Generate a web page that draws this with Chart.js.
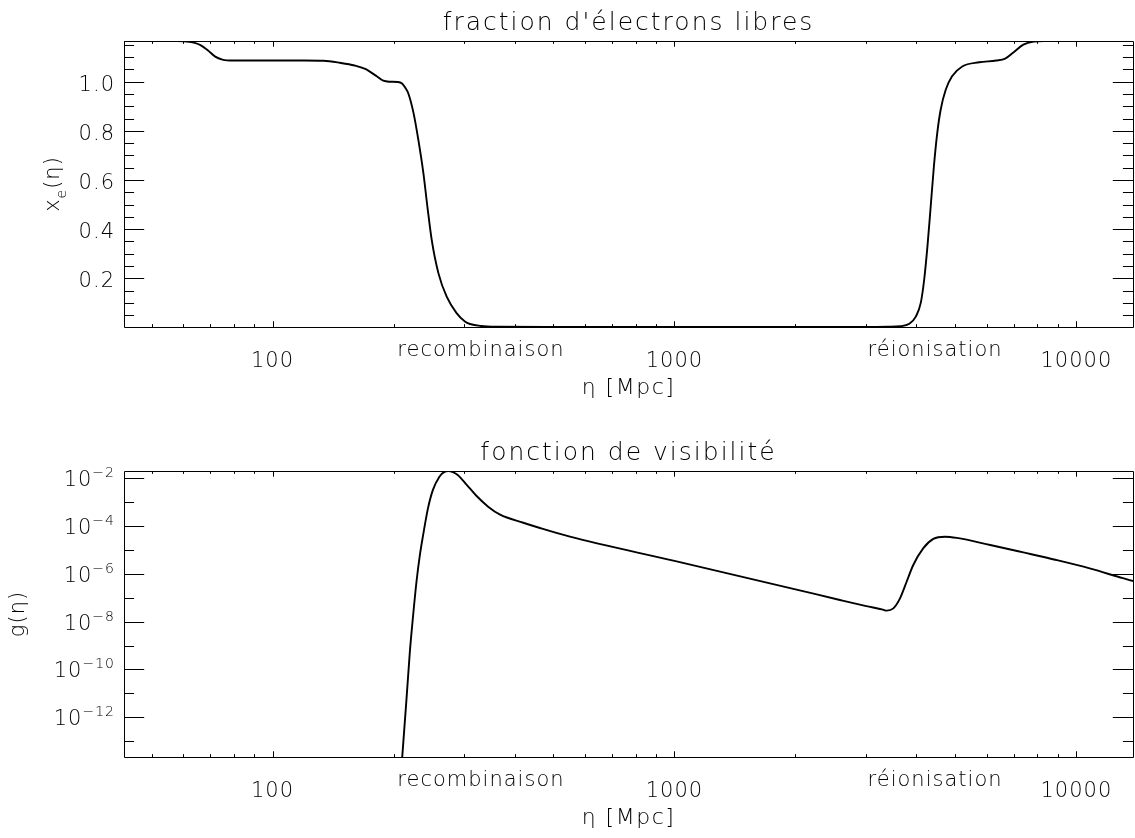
<!DOCTYPE html>
<html>
<head>
<meta charset="utf-8">
<script src="https://cdn.jsdelivr.net/npm/chart.js@4"></script>
<style>
  html, body { margin: 0; padding: 0; background: #fff; }
  #wrap { position: relative; width: 1135px; height: 838px; }
  canvas { position: absolute; left: 0; }
  #top { top: 0; }
  #bot { top: 419px; }
</style>
</head>
<body>
<div id="wrap">
  <canvas id="top" width="1135" height="419"></canvas>
  <canvas id="bot" width="1135" height="419"></canvas>
</div>
<script>
// fraction d'electrons libres x_e(eta)
const etaXe = [42.7, 50, 58, 62, 66, 69, 72, 75, 80, 100, 120, 134, 147, 160, 170, 181.7, 188.6, 195, 205, 210, 214, 217.7,
  224.3, 230.5, 237.3, 242.8, 248.9, 258.6, 271.2, 287, 301, 310, 330, 360, 500, 1000, 2000, 3000, 3400, 3650, 3840,
  3985, 4100, 4180, 4260, 4340, 4420, 4505, 4595, 4730, 4905, 5200, 5730, 6320, 6650, 6970, 7380, 7830, 8300, 13830];
const xeValues = [1.165, 1.165, 1.165, 1.162, 1.150, 1.128, 1.102, 1.090, 1.086, 1.086, 1.086, 1.085, 1.077, 1.066, 1.052, 1.022, 1.004, 1.000, 0.999, 0.993, 0.975, 0.952,
  0.872, 0.764, 0.628, 0.492, 0.356, 0.221, 0.125, 0.058, 0.024, 0.014, 0.006, 0.003, 0.002, 0.002, 0.002, 0.002, 0.003, 0.005, 0.015,
  0.044, 0.100, 0.193, 0.330, 0.492, 0.655, 0.790, 0.886, 0.967, 1.022, 1.062, 1.079, 1.086, 1.094, 1.119, 1.151, 1.163, 1.165, 1.165];

// fonction de visibilite g(eta)
const etaG = [209.5, 215.5, 219.6, 223.8, 228.1, 232.6, 237, 243.6, 250.5, 260.1, 267, 274.1, 281, 288.9, 304.6, 321, 343.9, 368.3,
  420.6, 462.8, 549.5, 1000, 2000, 2580, 3000, 3300, 3372, 3504, 3640, 3781, 3925, 4157, 4405, 4712, 5041, 6104, 7380, 8920, 10790, 13050, 13830];
const gValues = [1.0e-14, 6.3e-12, 5.5e-10, 1.9e-8, 4.7e-7, 6.2e-6, 4.3e-5, 5.5e-4, 3.2e-3, 1.17e-2, 1.82e-2, 2.02e-2, 1.82e-2, 1.38e-2, 5.2e-3, 1.9e-3, 6.5e-4, 3.0e-4,
  1.38e-4, 8.3e-5, 3.6e-5, 3.5e-6, 2.26e-7, 8.1e-8, 4.5e-8, 3.2e-8, 2.9e-8, 3.6e-8, 9.5e-8, 4.7e-7, 2.3e-6, 1.17e-5, 2.9e-5, 3.6e-5, 3.2e-5, 1.62e-5, 7.9e-6, 3.8e-6, 1.7e-6, 6.6e-7, 5.0e-7];

// ticks
const xMajor = [100, 1000, 10000];
const xMinor = [50, 60, 70, 80, 90, 200, 300, 400, 500, 600, 700, 800, 900, 2000, 3000, 4000, 5000, 6000, 7000, 8000, 9000];
const xeMajor = [0.2, 0.4, 0.6, 0.8, 1.0];
const xeMinor = [0.05, 0.1, 0.15, 0.25, 0.3, 0.35, 0.45, 0.5, 0.55, 0.65, 0.7, 0.75, 0.85, 0.9, 0.95, 1.05, 1.1, 1.15];
const gMajorExp = [-2, -4, -6, -8, -10, -12];
const gMinorExp = [-3, -5, -7, -9, -11, -13];

// labels under the x axis
const markerNames = ["recombinaison", "réionisation"];
const markerEta = [330, 4450];

const FONT = '"DejaVu Sans", sans-serif';
const INK = "#000";

function font(size) {
  return "300 " + size + "px " + FONT;
}

// draw runs of [text, size, dy] one after another
function runs(ctx, parts, x, y, align, spacing) {
  ctx.letterSpacing = (spacing || 1) + "px";
  let w = 0;
  parts.forEach(p => { ctx.font = font(p[1]); w += ctx.measureText(p[0]).width; });
  let cx = align === "center" ? x - w / 2 : align === "right" ? x - w : x;
  ctx.textAlign = "left";
  parts.forEach(p => {
    ctx.font = font(p[1]);
    ctx.fillText(p[0], cx, y + (p[2] || 0));
    cx += ctx.measureText(p[0]).width;
  });
}

function idlFrame(cfg) {
  return {
    id: "idlFrame",
    afterDatasetsDraw(chart) {
      const { ctx, chartArea: a, scales: { x, y } } = chart;
      ctx.save();
      ctx.strokeStyle = INK;
      ctx.fillStyle = INK;
      ctx.lineWidth = 1;
      ctx.beginPath();
      ctx.rect(a.left + 0.5, a.top + 0.5, a.right - a.left, a.bottom - a.top);

      const xLen = 0.02 * (a.bottom - a.top);
      const yLen = 0.02 * (a.right - a.left);
      const xt = (v, len) => {
        const px = Math.round(x.getPixelForValue(v)) + 0.5;
        ctx.moveTo(px, a.bottom); ctx.lineTo(px, a.bottom - len);
        ctx.moveTo(px, a.top); ctx.lineTo(px, a.top + len);
      };
      const yt = (v, len) => {
        const py = Math.round(y.getPixelForValue(v)) + 0.5;
        ctx.moveTo(a.left, py); ctx.lineTo(a.left + len, py);
        ctx.moveTo(a.right, py); ctx.lineTo(a.right - len, py);
      };
      xMajor.forEach(v => xt(v, xLen));
      xMinor.forEach(v => xt(v, xLen / 2));
      cfg.yMajor.forEach(v => yt(v, yLen));
      cfg.yMinor.forEach(v => yt(v, yLen / 2));
      ctx.stroke();

      ctx.textBaseline = "alphabetic";
      // x tick labels
      xMajor.forEach(v => runs(ctx, [[String(v), 21]], x.getPixelForValue(v), a.bottom + 40, "center"));
      markerNames.forEach((t, i) => runs(ctx, [[t, 21]], x.getPixelForValue(markerEta[i]), a.bottom + 29, "center"));
      // y tick labels
      cfg.yMajor.forEach(v => cfg.yLabel(ctx, v, a.left - 9, y.getPixelForValue(v)));
      // titles
      const cx = (a.left + a.right) / 2;
      runs(ctx, [[cfg.title, 25]], cx, a.top - 11, "center", 2);
      runs(ctx, [["η", 22], [" [Mpc]", 22]], cx, a.bottom + 67, "center", 1.5);
      ctx.save();
      ctx.translate(cfg.yTitleX, (a.top + a.bottom) / 2);
      ctx.rotate(-Math.PI / 2);
      runs(ctx, cfg.yTitle, 0, 7, "center");
      ctx.restore();
      ctx.restore();
    }
  };
}

function lineChart(id, xs, ys, yScale, pad, frame) {
  return new Chart(document.getElementById(id), {
    type: "line",
    data: {
      datasets: [{
        data: xs.map((e, i) => ({ x: e, y: ys[i] })),
        borderColor: INK,
        borderWidth: 1.9,
        pointRadius: 0,
        cubicInterpolationMode: "monotone",
        fill: false
      }]
    },
    options: {
      responsive: false,
      animation: false,
      events: [],
      layout: { padding: pad },
      plugins: { legend: { display: false }, tooltip: { enabled: false } },
      scales: {
        x: { type: "logarithmic", min: 42.7, max: 13830, display: false },
        y: Object.assign({ display: false }, yScale)
      }
    },
    plugins: [idlFrame(frame)]
  });
}

lineChart("top", etaXe, xeValues,
  { type: "linear", min: 0.0018, max: 1.1656 },
  { left: 124, right: 2, top: 41, bottom: 92 },
  {
    title: "fraction d'électrons libres",
    yMajor: xeMajor,
    yMinor: xeMinor,
    yLabel: (ctx, v, x, py) => runs(ctx, [[v.toFixed(1), 21]], x, py + 9, "right"),
    yTitleX: 52,
    yTitle: [["x", 21], ["e", 14, 7], ["(η)", 21]]
  });

lineChart("bot", etaG, gValues,
  { type: "logarithmic", min: 2.18e-14, max: 2.02e-2 },
  { left: 124, right: 2, top: 52, bottom: 81 },
  {
    title: "fonction de visibilité",
    yMajor: gMajorExp.map(e => Math.pow(10, e)),
    yMinor: gMinorExp.map(e => Math.pow(10, e)),
    yLabel: (ctx, v, x, py) => {
      const e = Math.round(Math.log10(v));
      runs(ctx, [["10", 21], ["−" + Math.abs(e), 14, -9]], x, py + 8, "right");
    },
    yTitleX: 17,
    yTitle: [["g(η)", 21]]
  });
</script>
</body>
</html>
